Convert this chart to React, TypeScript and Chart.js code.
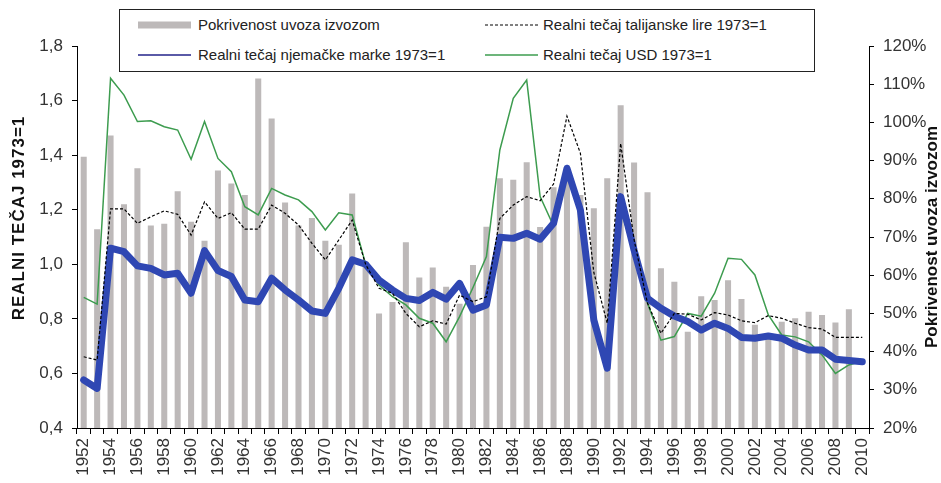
import React, { useEffect, useRef } from "react";
import { Chart, registerables } from "chart.js";

Chart.register(...registerables);

const years = [
  "1952","1953","1954","1955","1956","1957","1958","1959","1960","1961",
  "1962","1963","1964","1965","1966","1967","1968","1969","1970","1971",
  "1972","1973","1974","1975","1976","1977","1978","1979","1980","1981",
  "1982","1983","1984","1985","1986","1987","1988","1989","1990","1991",
  "1992","1993","1994","1995","1996","1997","1998","1999","2000","2001",
  "2002","2003","2004","2005","2006","2007","2008","2009","2010",
];

// Pokrivenost uvoza izvozom (%), right axis
const coverage = [
  91, 72, 96.6, 78.6, 88, 73, 73.5, 82, 74, 69,
  87.4, 84, 81, 111.5, 101, 79, 73, 75, 69, 68,
  81.4, 63.5, 50, 53, 68.6, 59.4, 62, 57, 52.5, 62.7,
  72.7, 85.4, 85, 89.6, 72.6, 83, 85, 81, 77.5, 85.4,
  104.5, 89.5, 81.7, 61.8, 58.3, 45.2, 54.5, 53.5, 58.7, 53.8,
  47, 44, 47.8, 48.7, 50.4, 49.6, 47.6, 51.1, null,
];

// Realni tečaj njemačke marke 1973=1
const dem = [
  0.576, 0.545, 1.059, 1.046, 0.994, 0.985, 0.961, 0.967, 0.894, 1.05,
  0.977, 0.955, 0.869, 0.863, 0.949, 0.906, 0.869, 0.829, 0.82, 0.912,
  1.016, 1.0, 0.942, 0.906, 0.875, 0.867, 0.897, 0.872, 0.93, 0.832,
  0.851, 1.099, 1.095, 1.114, 1.092, 1.15, 1.352, 1.199, 0.796, 0.619,
  1.248, 1.052, 0.875, 0.839, 0.81, 0.79, 0.759, 0.784, 0.765, 0.732,
  0.729, 0.737, 0.729, 0.704, 0.686, 0.686, 0.652, 0.647, 0.643,
];

// Realni tečaj USD 1973=1
const usd = [
  0.879, 0.854, 1.682, 1.62, 1.523, 1.526, 1.504, 1.492, 1.385, 1.523,
  1.388, 1.339, 1.211, 1.181, 1.278, 1.254, 1.236, 1.193, 1.126, 1.189,
  1.181, 1.0, 0.924, 0.881, 0.851, 0.802, 0.784, 0.716, 0.808, 0.915,
  1.028, 1.419, 1.608, 1.675, 1.248, 1.14, 1.34, 1.19, 0.8, 0.63,
  1.2, 1.04, 0.857, 0.722, 0.735, 0.82, 0.81, 0.894, 1.022, 1.018,
  0.961, 0.814, 0.741, 0.734, 0.716, 0.668, 0.6, 0.631, 0.645,
];

// Realni tečaj talijanske lire 1973=1
const itl = [
  0.661, 0.649, 1.203, 1.203, 1.15, 1.174, 1.196, 1.183, 1.107, 1.229,
  1.168, 1.189, 1.129, 1.129, 1.217, 1.187, 1.144, 1.077, 1.016, 1.089,
  1.162, 1.0, 0.912, 0.894, 0.82, 0.771, 0.793, 0.781, 0.887, 0.863,
  0.881, 1.168, 1.217, 1.248, 1.233, 1.294, 1.543, 1.407, 0.97, 0.784,
  1.443, 1.09, 0.857, 0.747, 0.82, 0.817, 0.796, 0.823, 0.814, 0.793,
  0.786, 0.812, 0.802, 0.784, 0.768, 0.763, 0.732, 0.732, 0.732,
];

const leftTitle = "REALNI TEČAJ 1973=1";
const rightTitle = "Pokrivenost uvoza izvozom";
const labelCoverage = "Pokrivenost uvoza izvozom";
const labelItl = "Realni tečaj talijanske lire 1973=1";
const labelDem = "Realni tečaj njemačke marke 1973=1";
const labelUsd = "Realni tečaj USD 1973=1";

const FONT = '"Liberation Sans", Arial, sans-serif';
const BAR_COLOR = "#bdb9b9";
const BLUE = "#2f47b3";
const GREEN = "#3d9c4f";

const titlesPlugin = {
  id: "axisTitles",
  afterDraw(chart: any) {
    const { ctx, chartArea } = chart;
    ctx.save();
    ctx.fillStyle = "#111";
    ctx.textAlign = "center";
    ctx.textBaseline = "middle";
    ctx.font = `bold 17px ${FONT}`;
    try { (ctx as any).letterSpacing = "1px"; } catch (e) {}
    ctx.translate(19, 218);
    ctx.rotate(-Math.PI / 2);
    ctx.fillText(leftTitle, 0, 0);
    ctx.restore();

    ctx.save();
    ctx.fillStyle = "#111";
    ctx.textAlign = "center";
    ctx.textBaseline = "middle";
    ctx.font = `bold 17px ${FONT}`;
    ctx.translate(932, (chartArea.top + chartArea.bottom) / 2);
    ctx.rotate(-Math.PI / 2);
    ctx.fillText(rightTitle, 0, 0);
    ctx.restore();
  },
};

function Legend() {
  const txt: React.CSSProperties = {
    position: "absolute",
    fontFamily: FONT,
    fontSize: 15,
    color: "#222",
    whiteSpace: "nowrap",
    lineHeight: "18px",
  };
  const sample = (left: number, top: number, kind: string) => (
    <svg style={{ position: "absolute", left, top: top - 5, overflow: "visible" }} width={53} height={10}>
      {kind === "bar" && <line x1={0} y1={5} x2={53} y2={5} stroke={BAR_COLOR} strokeWidth={7} />}
      {kind === "dash" && <line x1={0} y1={5} x2={53} y2={5} stroke="#000" strokeWidth={1} strokeDasharray="3 2" />}
      {kind === "blue" && <line x1={0} y1={5} x2={53} y2={5} stroke="#23238a" strokeWidth={1.5} />}
      {kind === "green" && <line x1={0} y1={5} x2={53} y2={5} stroke={GREEN} strokeWidth={1.5} />}
    </svg>
  );
  return (
    <div
      style={{
        position: "absolute",
        left: 119,
        top: 9,
        width: 696,
        height: 63,
        boxSizing: "border-box",
        border: "1px solid #222",
        background: "#fff",
      }}
    >
      {sample(18, 15, "bar")}
      <div style={{ ...txt, left: 78, top: 6 }}>{labelCoverage}</div>
      {sample(365, 15, "dash")}
      <div style={{ ...txt, left: 423, top: 6 }}>{labelItl}</div>
      {sample(18, 45, "blue")}
      <div style={{ ...txt, left: 78, top: 36 }}>{labelDem}</div>
      {sample(365, 45, "green")}
      <div style={{ ...txt, left: 423, top: 36 }}>{labelUsd}</div>
    </div>
  );
}

export default function App() {
  const canvasRef = useRef<HTMLCanvasElement | null>(null);

  useEffect(() => {
    document.body.style.margin = "0";
    const canvas = canvasRef.current;
    if (!canvas) return;
    const tickFont = { family: FONT, size: 17 };
    const chart = new Chart(canvas, {
      type: "bar",
      data: {
        labels: years,
        datasets: [
          {
            type: "line",
            label: labelItl,
            data: itl,
            yAxisID: "y",
            borderColor: "#000",
            borderWidth: 1.2,
            borderDash: [3, 2],
            pointRadius: 0,
            tension: 0,
            order: 1,
          },
          {
            type: "line",
            label: labelDem,
            data: dem,
            yAxisID: "y",
            borderColor: BLUE,
            borderWidth: 7,
            borderJoinStyle: "round",
            borderCapStyle: "round",
            pointRadius: 0,
            tension: 0,
            order: 2,
          },
          {
            type: "line",
            label: labelUsd,
            data: usd,
            yAxisID: "y",
            borderColor: GREEN,
            borderWidth: 1.5,
            pointRadius: 0,
            tension: 0,
            order: 3,
          },
          {
            type: "bar",
            label: labelCoverage,
            data: coverage,
            yAxisID: "y1",
            backgroundColor: BAR_COLOR,
            barPercentage: 0.45,
            categoryPercentage: 1,
            order: 10,
          },
        ] as any,
      },
      options: {
        responsive: false,
        animation: false,
        layout: { padding: { top: 46, left: 0, right: 0, bottom: 0 } },
        plugins: {
          legend: { display: false },
          tooltip: { enabled: false },
          title: { display: false },
        },
        scales: {
          x: {
            offset: true,
            grid: {
              display: true,
              drawOnChartArea: false,
              drawTicks: true,
              tickLength: 6,
              color: "#000",
              offset: true,
            },
            border: { display: true, color: "#000", width: 1 },
            ticks: {
              autoSkip: false,
              maxRotation: 90,
              minRotation: 90,
              padding: 4,
              color: "#333",
              font: tickFont,
              callback: (_v: any, i: number) => (i % 2 === 0 ? years[i] : ""),
            },
            afterFit: (s: any) => {
              s.height = 55;
            },
          },
          y: {
            position: "left",
            min: 0.4,
            max: 1.8,
            grid: { drawOnChartArea: false, tickLength: 5, color: "#000" },
            border: { display: true, color: "#000", width: 1 },
            ticks: {
              stepSize: 0.2,
              padding: 9,
              color: "#333",
              font: tickFont,
              callback: (v: any) => Number(v).toFixed(1).replace(".", ","),
            },
            afterFit: (s: any) => {
              s.width = 77;
            },
          },
          y1: {
            position: "right",
            min: 20,
            max: 120,
            grid: { drawOnChartArea: false, tickLength: 5, color: "#000" },
            border: { display: true, color: "#000", width: 1 },
            ticks: {
              stepSize: 10,
              padding: 9,
              color: "#333",
              font: tickFont,
              callback: (v: any) => `${Math.round(Number(v))}%`,
            },
            afterFit: (s: any) => {
              s.width = 72;
            },
          },
        },
      } as any,
      plugins: [titlesPlugin],
    });
    return () => chart.destroy();
  }, []);

  return (
    <div style={{ position: "relative", width: 941, height: 483, background: "#fff" }}>
      <canvas ref={canvasRef} width={941} height={483} style={{ display: "block" }} />
      <Legend />
    </div>
  );
}
